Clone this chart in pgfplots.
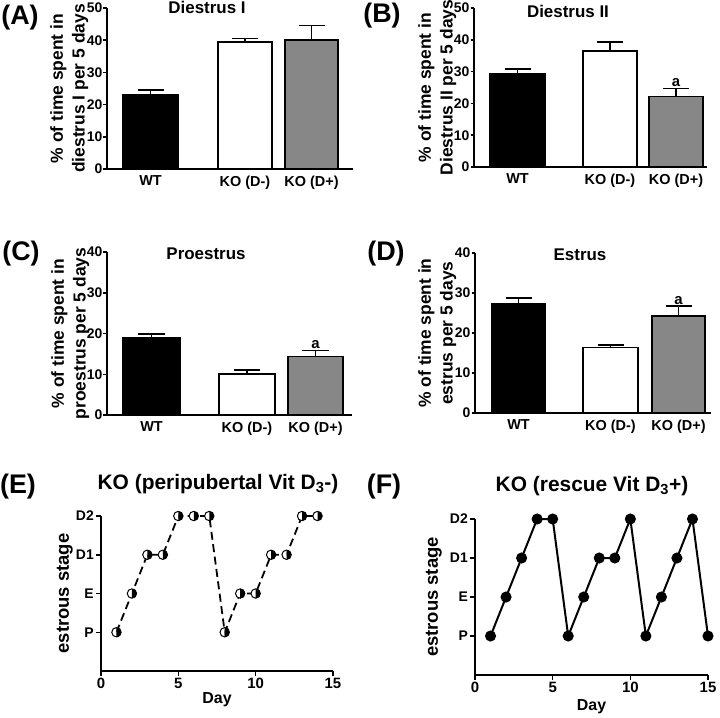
\documentclass[border=0pt]{standalone}
\usepackage{fontspec}
\setmainfont{Liberation Sans}
\usepackage{pgfplots}
\pgfplotsset{compat=1.18}
\usetikzlibrary{plotmarks}

\pgfplotsset{
  panel/.style={
    scale only axis, anchor=south west,
    axis lines=left, axis line style={line width=1.5bp,-},
    every tick/.style={line width=1.5bp, black},
    tick align=outside,
    /pgf/number format/assume math mode=true,
    clip=false,
  },
  barpanel/.style={
    panel, ymin=0, xmin=0, xtick style={draw=none},
    major tick length=3.5bp,
    yticklabel style={font=\fontsize{14}{14}\selectfont\bfseries, inner sep=1bp},
    xticklabel style={font=\fontsize{14.5}{14.5}\selectfont\bfseries},
    xticklabels={WT, KO (D-), KO (D+)},
    ylabel style={font=\fontsize{17.5}{22}\selectfont\bfseries, align=center,
      at={(axis description cs:0,0.5)}, anchor=south, inner sep=0pt},
    ybar, bar shift=0pt,
  },
  stagepanel/.style={
    panel, xmin=0, xmax=15, ymin=0, ymax=4,
    major tick length=5bp,
    xtick={0,5,10,15}, ytick={1,2,3,4}, yticklabels={P,E,D1,D2},
    xticklabel style={font=\fontsize{15}{15}\selectfont\bfseries, inner sep=2bp},
    yticklabel style={font=\fontsize{14}{14}\selectfont\bfseries, inner sep=2bp},
    xlabel style={font=\fontsize{16}{16}\selectfont\bfseries,
      at={(axis description cs:0.5,0)}, anchor=center},
    ylabel style={font=\fontsize{18.5}{18.5}\selectfont\bfseries,
      at={(axis description cs:0,0.5)}, anchor=south, inner sep=0pt},
    xlabel={Day}, ylabel={estrous stage},
  },
  errb/.style={
    error bars/y dir=plus, error bars/y explicit,
    error bars/error bar style={line width=1.5bp, black},
    error bars/error mark options={rotate=90, mark size=13bp, line width=1.5bp, black},
  },
  wtbar/.style={fill=black, draw=black, line width=1.5bp, errb},
  dmbar/.style={fill=white, draw=black, line width=1.5bp, errb},
  dpbar/.style={fill=black!47, draw=black, line width=1.5bp, errb},
}
\newcommand\ttl[3]{\node[font=\fontsize{17}{17}\selectfont\bfseries] at (#1bp,-#2bp) {#3};}
\newcommand\plab[3]{\node[font=\fontsize{27}{27}\selectfont\bfseries] at (#1bp,-#2bp) {#3};}
\newcommand\siga[2]{\node[anchor=south, inner sep=1bp, font=\fontsize{15}{15}\selectfont\bfseries] at (axis cs:#1,#2) {a};}

\begin{document}
\begin{tikzpicture}
\path[use as bounding box] (0,0) rectangle (720bp,-718bp);

% (A) Diestrus I
\begin{axis}[barpanel, at={(107bp,-169bp)}, width=246bp, height=161bp,
  xmax=246, ymax=50, ytick={0,10,20,30,40,50}, xtick={43.5,138,204.5},
  ylabel style={yshift=18.5bp},
  ylabel={\% of time spent in\\diestrus I per 5 days}]
\addplot[wtbar, bar width=55] coordinates {(43.5,23.0) +- (0,1.5)};
\addplot[dmbar, bar width=54] coordinates {(138,39.5) +- (0,1.1)};
\addplot[dpbar, bar width=53] coordinates {(204.5,40.1) +- (0,4.4)};
\end{axis}

% (B) Diestrus II
\begin{axis}[barpanel, at={(474bp,-167bp)}, width=233bp, height=159bp,
  xmax=233, ymax=50, ytick={0,10,20,30,40,50}, xtick={43.5,136,202},
  ylabel style={yshift=17.5bp},
  ylabel={\% of time spent in\\Diestrus II per 5 days}]
\addplot[wtbar, bar width=55] coordinates {(43.5,29.2) +- (0,1.6)};
\addplot[dmbar, bar width=54] coordinates {(136,36.5) +- (0,2.8)};
\addplot[dpbar, bar width=54] coordinates {(202,22.1) +- (0,2.6)};
\siga{202}{25.0}
\end{axis}

% (C) Proestrus
\begin{axis}[barpanel, at={(107bp,-415bp)}, width=245bp, height=163bp,
  xmax=245, ymax=40, ytick={0,10,20,30,40}, xtick={44.5,140,208.5},
  ylabel style={yshift=17.5bp},
  ylabel={\% of time spent in\\proestrus per 5 days}]
\addplot[wtbar, bar width=57] coordinates {(44.5,18.9) +- (0,1.0)};
\addplot[dmbar, bar width=56] coordinates {(140,10.1) +- (0,0.9)};
\addplot[dpbar, bar width=55] coordinates {(208.5,14.3) +- (0,1.5)};
\siga{208.5}{16.0}
\end{axis}

% (D) Estrus
\begin{axis}[barpanel, at={(475bp,-413bp)}, width=236bp, height=160bp,
  xmax=236, ymax=40, ytick={0,10,20,30,40}, xtick={43.5,135.5,203.5},
  ylabel style={yshift=18.5bp},
  ylabel={\% of time spent in\\estrus per 5 days}]
\addplot[wtbar, bar width=53] coordinates {(43.5,27.2) +- (0,1.5)};
\addplot[dmbar, bar width=55] coordinates {(135.5,16.4) +- (0,0.6)};
\addplot[dpbar, bar width=53] coordinates {(203.5,24.25) +- (0,2.5)};
\siga{203.5}{26.9}
\end{axis}

% (E) KO peripubertal
\begin{axis}[stagepanel, at={(101bp,-671bp)}, width=232bp, height=155bp,
  xlabel style={yshift=-29bp}, ylabel style={yshift=28bp}]
\addplot[black, line width=1.8bp, dash pattern=on 8bp off 4.5bp,
  mark=halfcircle*, mark size=4.7bp, mark color=black,
  mark options={solid, fill=white, rotate=90, line width=1bp}]
  coordinates {(1,1) (2,2) (3,3) (4,3) (5,4) (6,4) (7,4) (8,1) (9,2) (10,2) (11,3) (12,3) (13,4) (14,4)};
\end{axis}

% (F) KO rescue
\begin{axis}[stagepanel, at={(475bp,-675bp)}, width=233bp, height=156bp,
  xlabel style={yshift=-32bp}, ylabel style={yshift=33bp}]
\addplot[black, line width=2bp, mark=*, mark size=4.5bp, mark options={fill=black}]
  coordinates {(1,1) (2,2) (3,3) (4,4) (5,4) (6,1) (7,2) (8,3) (9,3) (10,4) (11,1) (12,2) (13,3) (14,4) (15,1)};
\end{axis}

% titles and panel letters
\ttl{207}{7.5}{Diestrus I}
\ttl{568}{11}{Diestrus II}
\ttl{206}{254}{Proestrus}
\ttl{580}{255}{Estrus}
\node[font=\fontsize{21}{21}\selectfont\bfseries] at (218bp,-484bp) {KO (peripubertal Vit D\textsubscript{3}-)};
\node[font=\fontsize{21}{21}\selectfont\bfseries] at (592bp,-486bp) {KO (rescue Vit D\textsubscript{3}+)};
\plab{20}{18}{(A)}
\plab{382}{16}{(B)}
\plab{21}{254}{(C)}
\plab{386}{254}{(D)}
\plab{18}{487}{(E)}
\plab{384}{487}{(F)}
\end{tikzpicture}
\end{document}
